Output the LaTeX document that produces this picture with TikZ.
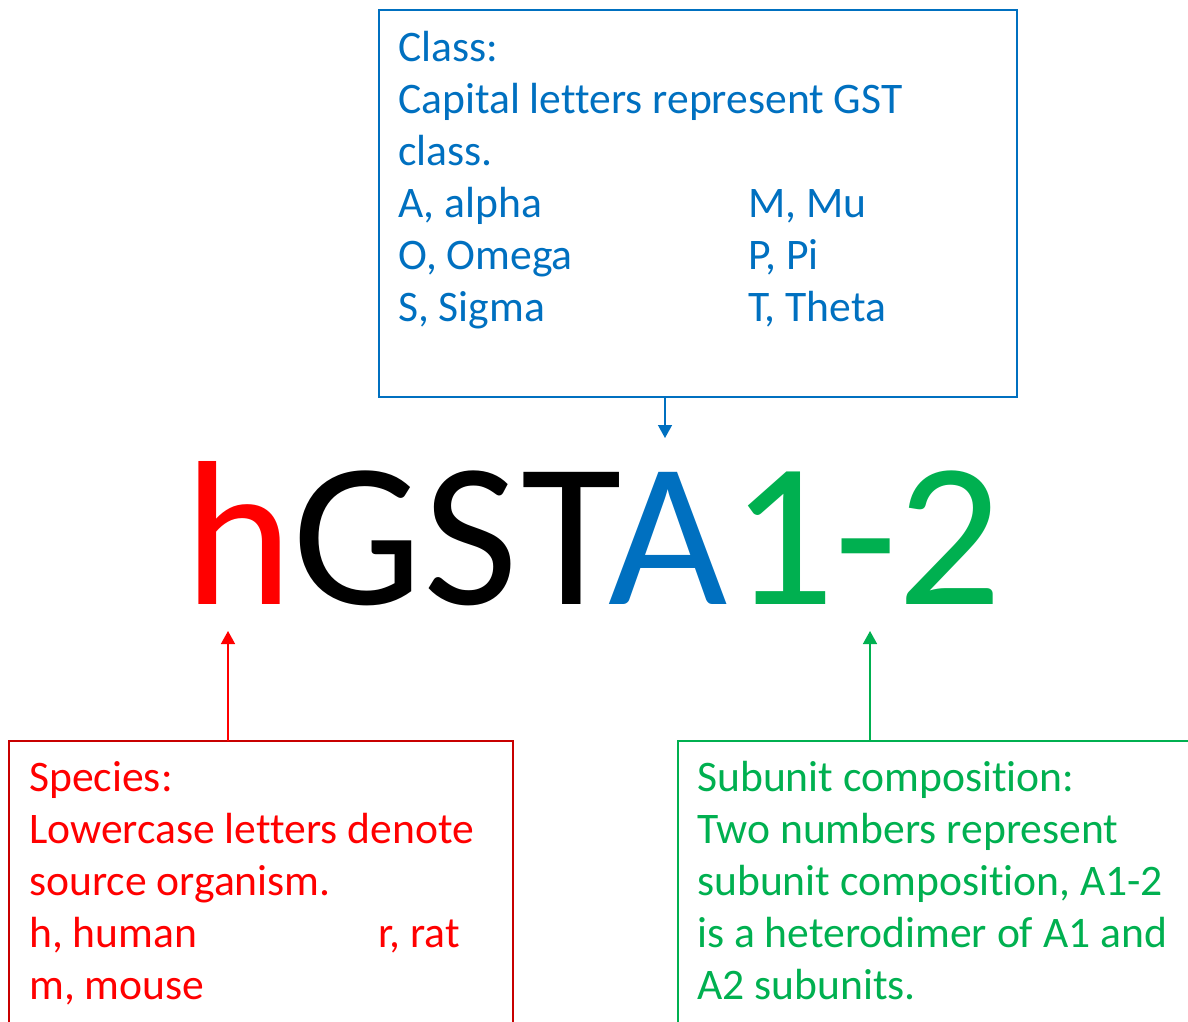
\documentclass[tikz,border=0pt]{standalone}
\usepackage{fontspec}
\setmainfont{Carlito}[Ligatures={NoCommon}]
\usetikzlibrary{arrows.meta}
\definecolor{cblue}{RGB}{0,112,192}
\definecolor{cred}{RGB}{255,0,0}
\definecolor{cdred}{RGB}{200,0,0}
\definecolor{cgreen}{RGB}{0,176,80}
\begin{document}
\begin{tikzpicture}[x=1pt,y=-1pt,
  boxtext/.style={anchor=base west,inner sep=0pt,font=\fontsize{43.6}{52}\selectfont},
  bigtext/.style={anchor=base west,inner sep=0pt,outer sep=0pt,font=\fontsize{206}{250}\selectfont},
  frame/.style={line width=2pt},
  pointer/.style={line width=1.5pt,-{Triangle[width=14pt,length=13pt]}}]
\useasboundingbox (0,0) rectangle (1188,1021);
% blue box
\draw[frame,cblue] (379,10) rectangle (1017,397);
\node[boxtext,text=cblue] (b1) at (398,61) {Class:};
\node[boxtext,text=cblue] (b2) at (398,113) {Capital letters represent GST};
\node[boxtext,text=cblue] (b3) at (398,165) {class.};
\node[boxtext,text=cblue] (b4) at (398,217) {A, alpha};
\node[boxtext,text=cblue] (b5) at (748,217) {M, Mu};
\node[boxtext,text=cblue] (b6) at (398,269) {O, Omega};
\node[boxtext,text=cblue] (b7) at (748,269) {P, Pi};
\node[boxtext,text=cblue] (b8) at (398,321) {S, Sigma};
\node[boxtext,text=cblue] (b9) at (748,321) {T, Theta};
% big code
\node[bigtext,text=cred] (h) at (184,604) {h};
\node[bigtext] (gst) at (292,604) {G\kern2ptS\kern3ptT};
\node[bigtext,text=cblue] (a) at (608,604) {A};
\node[bigtext,text=cgreen] (num) at (730,604) {1-2};
% red box
\draw[frame,cdred] (9,741) rectangle (513,1030);
\node[boxtext,text=cred] (r1) at (29,791) {Species:};
\node[boxtext,text=cred] (r2) at (29,843) {Lowercase letters denote};
\node[boxtext,text=cred] (r3) at (29,895) {source organism.};
\node[boxtext,text=cred] (r4) at (29,947) {h, human};
\node[boxtext,text=cred] (r5) at (378,947) {r, rat};
\node[boxtext,text=cred] (r6) at (29,999) {m, mouse};
% green box
\draw[frame,cgreen] (678,741) rectangle (1200,1030);
\node[boxtext,text=cgreen] (g1) at (697,791) {Subunit composition:};
\node[boxtext,text=cgreen] (g2) at (697,843) {Two numbers represent};
\node[boxtext,text=cgreen] (g3) at (697,895) {subunit composition, A1-2};
\node[boxtext,text=cgreen] (g4) at (697,947) {is a heterodimer of A1 and};
\node[boxtext,text=cgreen] (g5) at (697,999) {A2 subunits.};
% connectors
\coordinate (bs) at (665,397);
\coordinate (be) at (665,438);
\coordinate (rs) at (228,741);
\coordinate (re) at (228,631);
\coordinate (gs) at (870,741);
\coordinate (ge) at (870,631);
\draw[pointer,cblue] (bs) -- (be);
\draw[pointer,cred] (rs) -- (re);
\draw[pointer,cgreen] (gs) -- (ge);
\end{tikzpicture}
\end{document}
